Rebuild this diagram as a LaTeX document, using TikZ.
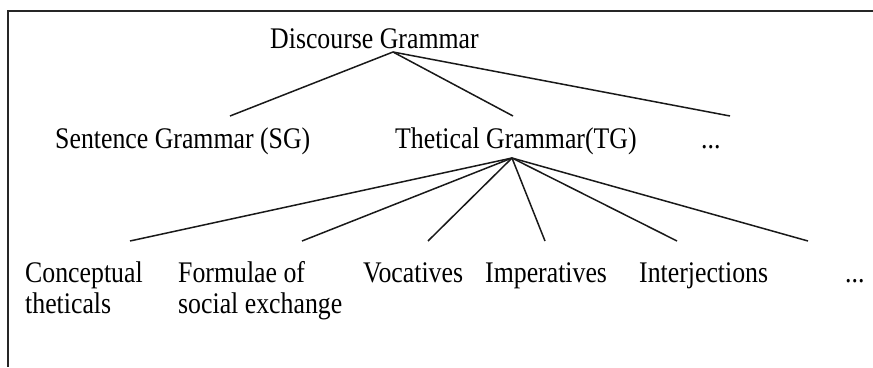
\documentclass[tikz,border=0pt]{standalone}
\usepackage{fontspec}
\setmainfont{Liberation Serif}
\usepackage{graphicx}
\newcommand{\vstr}[1]{\scalebox{1}[1.16]{#1}}
\begin{document}
\begin{tikzpicture}[x=1pt,y=-1pt,
  lbl/.style={anchor=base west,inner sep=0pt,font=\fontsize{25.8}{31}\selectfont},
  edge/.style={line width=1.5pt,color=black!90},
  frame/.style={line width=1.8pt,color=black!85}]
\useasboundingbox (0,0) rectangle (873,367);
% frame (top and left only)
\draw[frame] (873,11) -- (8,11) -- (8,367);
% text nodes
\node[lbl] (dg) at (270,48) {\vstr{Discourse Grammar}};
\node[lbl] (sg) at (55,148) {\vstr{Sentence Grammar (SG)}};
\node[lbl] (tg) at (395,148) {\vstr{Thetical Grammar(TG)}};
\node[lbl] (d1) at (701,148) {\vstr{...}};
\node[lbl] (c1) at (25,282) {\vstr{Conceptual}};
\node[lbl] (c1b) at (25,313) {\vstr{theticals}};
\node[lbl] (c2) at (178,282) {\vstr{Formulae of}};
\node[lbl] (c2b) at (178,313) {\vstr{social exchange}};
\node[lbl] (c3) at (363,282) {\vstr{Vocatives}};
\node[lbl] (c4) at (485,282) {\vstr{Imperatives}};
\node[lbl] (c5) at (639,282) {\vstr{Interjections}};
\node[lbl] (c6) at (845,282) {\vstr{...}};
% apex and end points
\coordinate (dgA) at (393,52);
\coordinate (tgA) at (512,158);
\coordinate (sgE) at (230,116);
\coordinate (tgE) at (513,116);
\coordinate (d1E) at (730,116);
\coordinate (c1E) at (130,241);
\coordinate (c2E) at (302,241);
\coordinate (c3E) at (428,241);
\coordinate (c4E) at (545,241);
\coordinate (c5E) at (677,241);
\coordinate (c6E) at (808,241);
% connectors
\draw[edge] (dgA) -- (sgE);
\draw[edge] (dgA) -- (tgE);
\draw[edge] (dgA) -- (d1E);
\foreach \e in {c1E,c2E,c3E,c4E,c5E,c6E}
  \draw[edge] (tgA) -- (\e);
\end{tikzpicture}
\end{document}
